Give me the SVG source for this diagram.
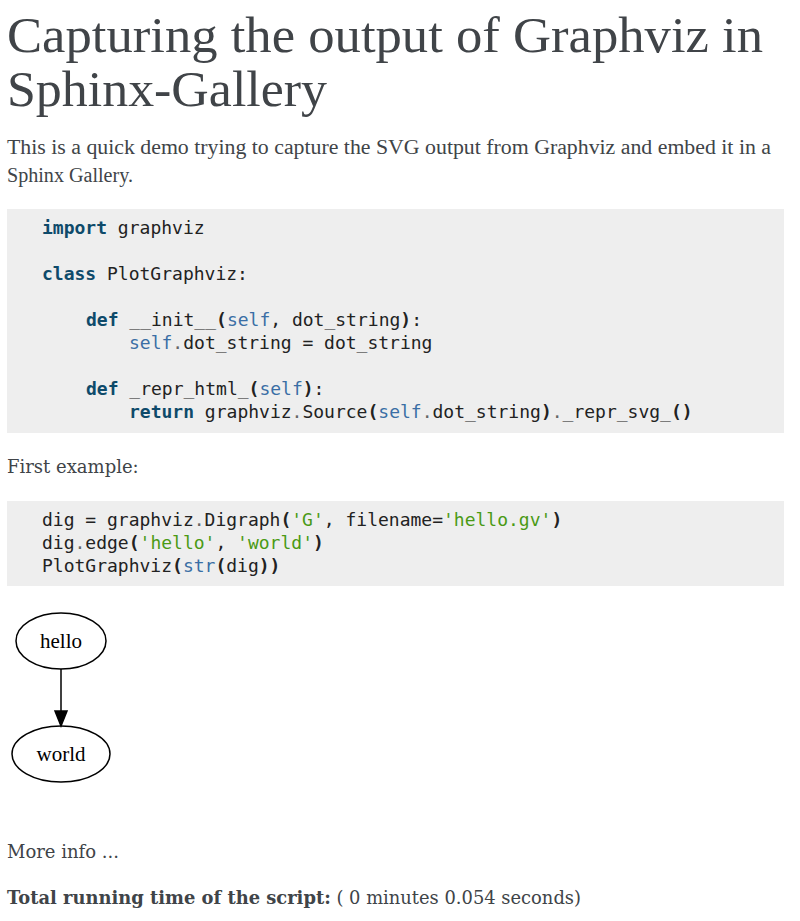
<svg xmlns="http://www.w3.org/2000/svg" width="800" height="921" viewBox="0 0 800 921">
<style>
.t{font-family:"DejaVu Serif","Liberation Serif",serif;fill:#404448}
.h{font-family:"Liberation Serif",serif;fill:#404448}
.c{font-family:"DejaVu Sans Mono","Liberation Mono",monospace;font-size:18px;fill:#222}
.k{font-weight:bold;fill:#0e4a6a}
.s{fill:#3a6ea5}
.g{fill:#4a9a14}
.o{fill:#666}
.b{font-weight:bold}
.n{fill:none;stroke:#000;stroke-width:1.5}
.nl{font-family:"Liberation Serif",serif;font-size:21px;text-anchor:middle;fill:#000}
</style>
<rect width="800" height="921" fill="#fff"/>
<text class="h" x="7" y="52" font-size="50" textLength="756" lengthAdjust="spacingAndGlyphs">Capturing the output of Graphviz in</text>
<text class="h" x="7" y="106" font-size="50" textLength="320" lengthAdjust="spacingAndGlyphs">Sphinx-Gallery</text>
<text class="h" x="7" y="154" font-size="20" textLength="764" lengthAdjust="spacingAndGlyphs">This is a quick demo trying to capture the SVG output from Graphviz and embed it in a</text>
<text class="h" x="7" y="182" font-size="20" textLength="126" lengthAdjust="spacingAndGlyphs">Sphinx Gallery.</text>
<rect x="7" y="209" width="777" height="224" fill="#eeeeee"/>
<g class="c">
<text x="42" y="234"><tspan class="k">import</tspan> graphviz</text>
<text x="42" y="280"><tspan class="k">class</tspan> PlotGraphviz:</text>
<text x="86" y="326"><tspan class="k">def</tspan> __init__<tspan class="b">(</tspan><tspan class="s">self</tspan>, dot_string<tspan class="b">)</tspan>:</text>
<text x="129" y="349"><tspan class="s">self</tspan><tspan class="o">.</tspan>dot_string = dot_string</text>
<text x="86" y="395"><tspan class="k">def</tspan> _repr_html_<tspan class="b">(</tspan><tspan class="s">self</tspan><tspan class="b">)</tspan>:</text>
<text x="129" y="418"><tspan class="k">return</tspan> graphviz<tspan class="o">.</tspan>Source<tspan class="b">(</tspan><tspan class="s">self</tspan><tspan class="o">.</tspan>dot_string<tspan class="b">)</tspan><tspan class="o">.</tspan>_repr_svg_<tspan class="b">()</tspan></text>
</g>
<text class="t" x="7" y="473" font-size="18">First example:</text>
<rect x="7" y="501" width="777" height="85" fill="#eeeeee"/>
<g class="c">
<text x="42" y="526">dig = graphviz<tspan class="o">.</tspan>Digraph<tspan class="b">(</tspan><tspan class="g">'G'</tspan>, filename=<tspan class="g">'hello.gv'</tspan><tspan class="b">)</tspan></text>
<text x="42" y="549">dig<tspan class="o">.</tspan>edge<tspan class="b">(</tspan><tspan class="g">'hello'</tspan>, <tspan class="g">'world'</tspan><tspan class="b">)</tspan></text>
<text x="42" y="572">PlotGraphviz<tspan class="b">(</tspan><tspan class="s">str</tspan><tspan class="b">(</tspan>dig<tspan class="b">))</tspan></text>
</g>
<g id="connectors">
<line class="n" x1="61" y1="669" x2="61" y2="712"/>
<polygon points="55,711 67,711 61,726" fill="#000" stroke="#000" stroke-width="1.5"/>
</g>
<g id="hello">
<ellipse class="n" cx="61" cy="641" rx="45" ry="28"/>
<text class="nl" x="61" y="648">hello</text>
</g>
<g id="world">
<ellipse class="n" cx="61" cy="754" rx="49" ry="28"/>
<text class="nl" x="61" y="761">world</text>
</g>
<text class="t" x="7" y="858" font-size="18">More info ...</text>
<text class="t" x="7" y="904" font-size="18" textLength="574" lengthAdjust="spacingAndGlyphs"><tspan font-weight="bold">Total running time of the script:</tspan> ( 0 minutes 0.054 seconds)</text>
</svg>
